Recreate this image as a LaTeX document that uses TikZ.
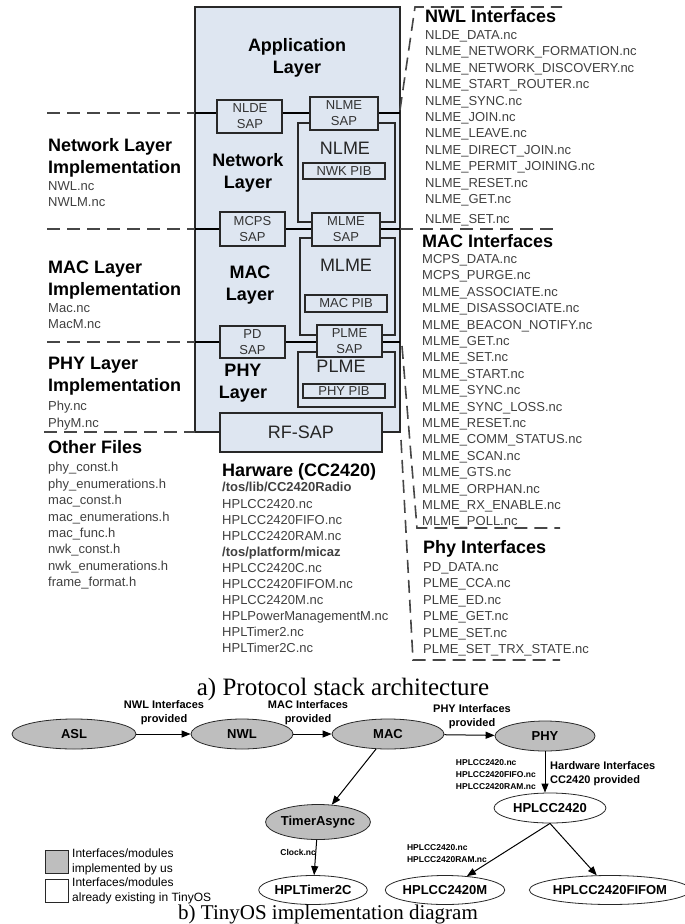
\documentclass[tikz,border=0pt]{standalone}
\usepackage{fontspec}
\setmainfont{Liberation Serif}
\setsansfont{Liberation Sans}
\usepackage{tikz}
\usetikzlibrary{arrows.meta,shapes.geometric}
\usepackage{xcolor}
\definecolor{layerblue}{RGB}{222,230,241}
\definecolor{modgray}{RGB}{190,190,190}
\definecolor{linegray}{RGB}{40,40,40}
\definecolor{dashgray}{RGB}{70,70,70}

\begin{document}
\begin{tikzpicture}[x=1pt, y=-1pt,
	stackbox/.style={fill=layerblue, draw=linegray, line width=1.6pt},
	sapbox/.style={fill=layerblue, draw=linegray, line width=1.2pt},
	sepline/.style={draw=dashgray, line width=1.6pt, dash pattern=on 13pt off 7pt},
	busline/.style={draw=black, line width=2.2pt},
	layertitle/.style={font=\sffamily\bfseries\fontsize{18}{22}\selectfont, align=center, inner sep=0},
	boxtext/.style={font=\sffamily\fontsize{18}{21}\selectfont, inner sep=0, text=black!85},
	saptext/.style={font=\sffamily\fontsize{13}{16}\selectfont, align=center, inner sep=0, text=black!80},
	heading/.style={font=\sffamily\bfseries\fontsize{18}{22}\selectfont, align=left, anchor=north west, inner sep=0},
	filelist/.style={font=\sffamily\fontsize{13}{16.4}\selectfont, align=left, anchor=north west, inner sep=0, text=black!75},
	module/.style={ellipse, draw=linegray, line width=0.8pt, fill=modgray, minimum height=30, inner sep=0, font=\sffamily\bfseries\fontsize{13}{15}\selectfont},
	existing/.style={module, fill=white},
	calls/.style={-{Triangle[length=9pt,width=7pt]}, line width=1pt, draw=black},
	calltext/.style={font=\sffamily\bfseries\fontsize{11}{14}\selectfont, align=center, inner sep=0},
	ncfiles/.style={font=\sffamily\bfseries\fontsize{8.5}{12}\selectfont, align=left, inner sep=0},
	legendtext/.style={font=\sffamily\fontsize{12}{15}\selectfont, align=left, inner sep=0},
	figcaption/.style={font=\rmfamily\fontsize{22}{26}\selectfont, inner sep=0}
]
	\useasboundingbox (0,0) rectangle (685,924);

	\filldraw[stackbox] (195,7) rectangle ++(205,425);
	\draw[busline] (195,113) -- (400,113);
	\draw[busline] (195,229) -- (400,229);
	\draw[busline] (195,342) -- (400,342);

	\draw[sepline] (47,113) -- (195,113);
	\draw[sepline] (47,229) -- (195,229);
	\draw[sepline] (47,342) -- (195,342);
	\draw[sepline] (44,432) -- (195,432);

	\draw[sepline] (400,110) -- (415,7) -- (562,7);
	\draw[sepline] (400,229) -- (557,229);
	\draw[sepline] (402,346) -- (417,528) -- (560,528);
	\draw[sepline] (401,440) -- (413,660) -- (560,660);

	\node (appl) [layertitle] at (297,58) {Application\\Layer};
	\node (nwklayer) [layertitle] at (248,173) {Network\\Layer};
	\node (maclayer) [layertitle] at (250,285) {MAC\\Layer};
	\node (phylayer) [layertitle] at (243,383) {PHY\\Layer};

	\filldraw[sapbox] (298,123) rectangle ++(97,99);
	\node (nlme) [boxtext] at (345,148) {NLME};
	\filldraw[sapbox] (303,163) rectangle ++(82,16);
	\node (nwkpib) [saptext] at (344,171) {NWK PIB};
	\filldraw[sapbox] (300,238) rectangle ++(95,97);
	\node (mlme) [boxtext] at (346,265) {MLME};
	\filldraw[sapbox] (305,295) rectangle ++(82,17);
	\node (macpib) [saptext] at (346,303.5) {MAC PIB};
	\filldraw[sapbox] (298,352) rectangle ++(97,55);
	\node (plme) [boxtext] at (341,366) {PLME};
	\filldraw[sapbox] (303,384) rectangle ++(82,14);
	\node (phypib) [saptext] at (344,391) {PHY PIB};

	\filldraw[sapbox] (217,100) rectangle ++(65,33);
	\node (nldesap) [saptext] at (250,116) {NLDE\\SAP};
	\filldraw[sapbox] (310,97) rectangle ++(68,33);
	\node (nlmesap) [saptext] at (344,113.5) {NLME\\SAP};
	\filldraw[sapbox] (220,212) rectangle ++(65,34);
	\node (mcpssap) [saptext] at (252.5,229) {MCPS\\SAP};
	\filldraw[sapbox] (312,213) rectangle ++(68,33);
	\node (mlmesap) [saptext] at (346,229.5) {MLME\\SAP};
	\filldraw[sapbox] (220,326) rectangle ++(65,32);
	\node (pdsap) [saptext] at (252.5,342) {PD\\SAP};
	\filldraw[sapbox] (317,325) rectangle ++(65,32);
	\node (plmesap) [saptext] at (349.5,341) {PLME\\SAP};
	\filldraw[sapbox] (220,413) rectangle ++(162,39);
	\node (rfsap) [boxtext] at (301,432.5) {RF-SAP};

	\node (nwlhead) [heading] at (48,138.3) {Network Layer\\Implementation};
	\node (nwlfiles) [filelist] at (48,181.3) {NWL.nc\\NWLM.nc};
	\node (machead) [heading] at (48,260.3) {MAC Layer\\Implementation};
	\node (macfiles) [filelist] at (48,303.3) {Mac.nc\\MacM.nc};
	\node (phyhead) [heading] at (48,357.3) {PHY Layer\\Implementation};
	\node (phyfiles) [filelist] at (48,401.3) {Phy.nc\\PhyM.nc};
	\node (otherhead) [heading] at (48,440.3) {Other Files};
	\node (otherfiles) [filelist] at (48,462.3) {phy\_const.h\\phy\_enumerations.h\\mac\_const.h\\mac\_enumerations.h\\mac\_func.h\\nwk\_const.h\\nwk\_enumerations.h\\frame\_format.h};

	\node (hwhead) [heading] at (222,463.3) {Harware (CC2420)};
	\node (hwfiles) [filelist, font=\sffamily\fontsize{13}{16.1}\selectfont] at (222,482.3) {\textbf{/tos/lib/CC2420Radio}\\HPLCC2420.nc\\HPLCC2420FIFO.nc\\HPLCC2420RAM.nc\\\textbf{/tos/platform/micaz}\\HPLCC2420C.nc\\HPLCC2420FIFOM.nc\\HPLCC2420M.nc\\HPLPowerManagementM.nc\\HPLTimer2.nc\\HPLTimer2C.nc};

	\node (nwlifhead) [heading] at (425,9.3) {NWL Interfaces};
	\node (nwlif) [filelist] at (425,30.3) {NLDE\_DATA.nc\\NLME\_NETWORK\_FORMATION.nc\\NLME\_NETWORK\_DISCOVERY.nc\\NLME\_START\_ROUTER.nc\\NLME\_SYNC.nc\\NLME\_JOIN.nc\\NLME\_LEAVE.nc\\NLME\_DIRECT\_JOIN.nc\\NLME\_PERMIT\_JOINING.nc\\NLME\_RESET.nc\\NLME\_GET.nc\\[3.6pt]NLME\_SET.nc};
	\node (macifhead) [heading] at (422,234.3) {MAC Interfaces};
	\node (macif) [filelist] at (422,254.3) {MCPS\_DATA.nc\\MCPS\_PURGE.nc\\MLME\_ASSOCIATE.nc\\MLME\_DISASSOCIATE.nc\\MLME\_BEACON\_NOTIFY.nc\\MLME\_GET.nc\\MLME\_SET.nc\\MLME\_START.nc\\MLME\_SYNC.nc\\MLME\_SYNC\_LOSS.nc\\MLME\_RESET.nc\\MLME\_COMM\_STATUS.nc\\MLME\_SCAN.nc\\MLME\_GTS.nc\\MLME\_ORPHAN.nc\\MLME\_RX\_ENABLE.nc\\MLME\_POLL.nc};
	\node (phyifhead) [heading] at (423,540.3) {Phy Interfaces};
	\node (phyif) [filelist] at (423,562.3) {PD\_DATA.nc\\PLME\_CCA.nc\\PLME\_ED.nc\\PLME\_GET.nc\\PLME\_SET.nc\\PLME\_SET\_TRX\_STATE.nc};

	\node (captiona) [figcaption, font=\rmfamily\fontsize{25}{28}\selectfont] at (343,689) {a) Protocol stack architecture};

	\node (asl) [module, minimum width=124] at (74,734) {ASL};
	\node (nwl) [module, minimum width=102] at (242,734) {NWL};
	\node (mac) [module, minimum width=112] at (388,734) {MAC};
	\node (phy) [module, minimum width=100] at (545,736) {PHY};
	\node (hplcc) [existing, minimum width=112] at (550,808) {HPLCC2420};
	\node (timer) [module, minimum width=102, minimum height=35] at (318,822) {TimerAsync};
	\node (hpltimer) [existing, minimum width=100, minimum height=29] at (313,890) {HPLTimer2C};
	\node (hplm) [existing, minimum width=102, minimum height=29] at (445,890) {HPLCC2420M};
	\node (hplfifo) [existing, minimum width=126, minimum height=29] at (610,890) {HPLCC2420FIFOM};

	\draw[calls] (asl) -- (nwl);
	\node (lblnwl) [calltext] at (164,713) {NWL Interfaces\\provided};
	\draw[calls] (nwl) -- (mac);
	\node (lblmac) [calltext] at (308,713) {MAC Interfaces\\provided};
	\draw[calls] (mac) -- (phy);
	\node (lblphy) [calltext] at (472,717) {PHY Interfaces\\provided};
	\draw[calls] (phy.south) -- (phy.south |- hplcc.north);
	\node (lblhw) [calltext, align=left, anchor=west] at (550,774) {Hardware Interfaces\\CC2420 provided};
	\node (lblhwnc) [ncfiles, anchor=east] at (536,775) {HPLCC2420.nc\\HPLCC2420FIFO.nc\\HPLCC2420RAM.nc};
	\draw[calls] (mac) -- (timer);
	\draw[calls] (timer) -- (hpltimer);
	\node (lblclock) [ncfiles, anchor=east] at (316,852) {Clock.nc};
	\draw[calls] (hplcc.south) -- (hplm);
	\draw[calls] (hplcc.south) -- (hplfifo);
	\node (lblhplm) [ncfiles] at (447,854) {HPLCC2420.nc\\HPLCC2420RAM.nc};

	\node (leggray) [draw=linegray, fill=modgray, minimum width=23, minimum height=23, inner sep=0] at (57,862) {};
	\node (legus) [legendtext, anchor=west] at (72,862) {Interfaces/modules\\implemented by us};
	\node (legwhite) [draw=linegray, fill=white, minimum width=23, minimum height=23, inner sep=0] at (57,891) {};
	\node (legtinyos) [legendtext, anchor=west] at (72,891) {Interfaces/modules\\already existing in TinyOS};

	\node (captionb) [figcaption, font=\rmfamily\fontsize{21}{24}\selectfont] at (328,914) {b) TinyOS implementation diagram};
\end{tikzpicture}
\end{document}
